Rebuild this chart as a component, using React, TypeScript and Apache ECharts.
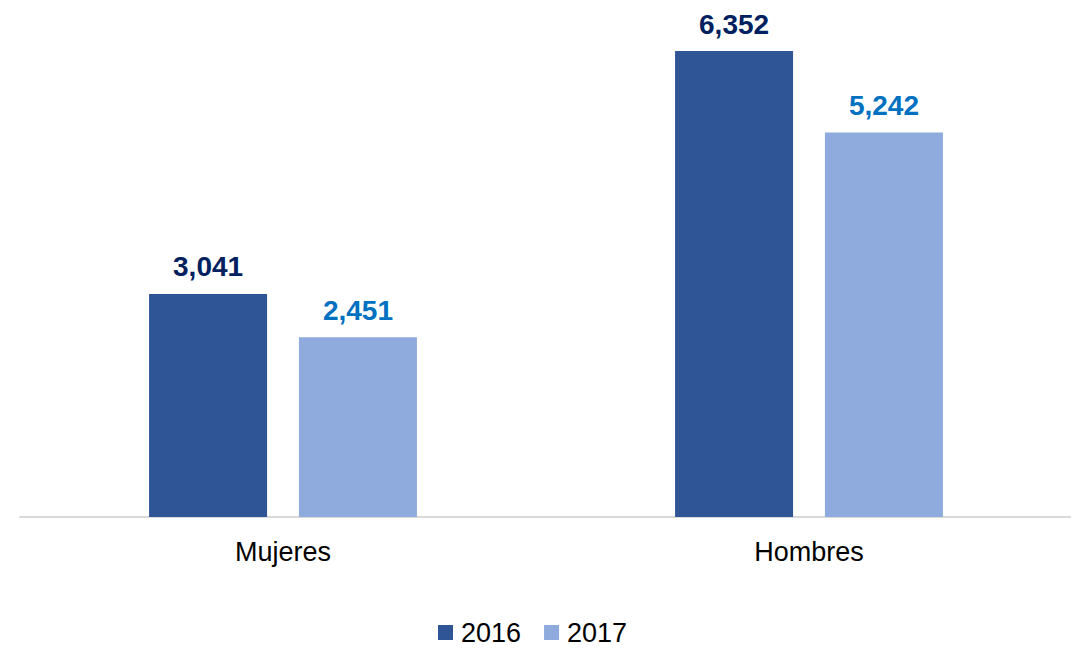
import React, { useEffect, useRef } from "react";
import * as echarts from "echarts";

const categories = ["Mujeres", "Hombres"];
const seriesNames = ["2016", "2017"];
const values2016 = [3041, 6352];
const values2017 = [2451, 5242];

export default function App() {
  const ref = useRef<HTMLDivElement>(null);
  useEffect(() => {
    if (!ref.current) return;
    const chart = echarts.init(ref.current, null, { renderer: "svg" });
    const fmt = (p: any) => Number(p.value).toLocaleString("en-US");
    chart.setOption({
      animation: false,
      textStyle: { fontFamily: "Liberation Sans, Arial, sans-serif" },
      grid: { left: 20, right: 7, top: 3.5, bottom: 135 },
      legend: {
        data: seriesNames,
        top: 619,
        left: 438,
        padding: 0,
        icon: "rect",
        itemWidth: 15,
        itemHeight: 15,
        itemGap: 23,
        textStyle: {
          fontSize: 27,
          color: "#000",
          padding: [0, 0, 0, 3],
        },
      },
      xAxis: {
        type: "category",
        data: categories,
        axisLine: { lineStyle: { color: "#d9d9d9", width: 2 } },
        axisTick: { show: false },
        axisLabel: { fontSize: 27, color: "#000", margin: 21 },
      },
      yAxis: {
        type: "value",
        min: 0,
        max: 7000,
        show: false,
        splitLine: { show: false },
      },
      series: [
        {
          name: seriesNames[0],
          type: "bar",
          data: values2016,
          barWidth: 118,
          barGap: "27%",
          itemStyle: { color: "#2F5597" },
          label: {
            show: true,
            position: "top",
            distance: 13,
            formatter: fmt,
            fontSize: 28,
            fontWeight: "bold",
            color: "#002060",
          },
        },
        {
          name: seriesNames[1],
          type: "bar",
          data: values2017,
          barWidth: 118,
          itemStyle: { color: "#8FAADC" },
          label: {
            show: true,
            position: "top",
            distance: 13,
            formatter: fmt,
            fontSize: 28,
            fontWeight: "bold",
            color: "#0070C0",
          },
        },
      ],
    });
    return () => chart.dispose();
  }, []);
  return <div ref={ref} style={{ width: 1079, height: 652, margin: -8 }} />;
}
